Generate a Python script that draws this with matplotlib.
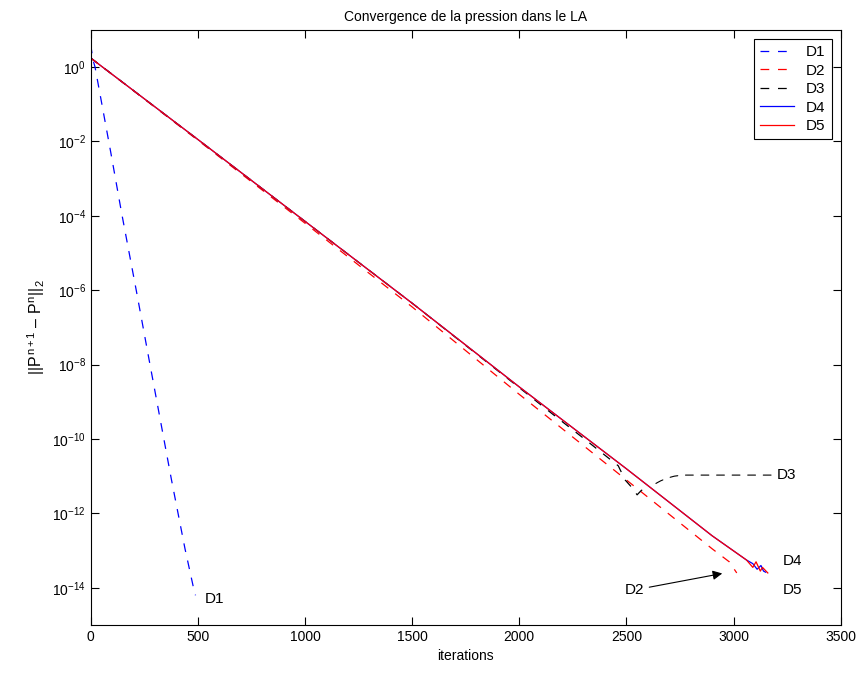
import numpy as np
import matplotlib.pyplot as plt

plt.rcParams['font.family'] = ['Liberation Sans', 'DejaVu Sans']
plt.rcParams['mathtext.fontset'] = 'custom'
plt.rcParams['mathtext.rm'] = 'Liberation Sans'
plt.rcParams['mathtext.it'] = 'Liberation Sans'
plt.rcParams['font.size'] = 10

# values: iterations and log10 of the residual
d1_it = [0, 10, 20, 93, 144, 214, 275, 377, 440, 479, 489]
d1_log = [0.6, 0.2, 0.0, -2.28, -3.92, -6.05, -7.95, -11.1, -12.95, -13.98, -14.2]

d2_it = [0, 500, 1000, 1500, 2000, 2500, 2900, 2980, 3015]
d2_log = [0.24, -1.97, -4.2, -6.45, -8.8, -11.1, -12.95, -13.3, -13.6]

d3_it = [0, 500, 1000, 1500, 2000, 2173, 2300, 2462, 2494, 2525, 2550, 2570, 2600]
d3_log = [0.24, -1.95, -4.15, -6.35, -8.62, -9.41, -9.98, -10.72, -11.1, -11.3, -11.5, -11.38, -11.32]

d4_it = [0, 20, 500, 1000, 1500, 2000, 2500, 2900, 3060, 3090, 3110, 3128, 3140, 3150]
d4_log = [0.24, 0.15, -1.95, -4.15, -6.35, -8.6, -10.8, -12.6, -13.25, -13.35, -13.5, -13.4, -13.55, -13.58]

d5_it = [0, 20, 500, 1000, 1500, 2000, 2500, 2900, 3060, 3090, 3105, 3125, 3135, 3160]
d5_log = [0.24, 0.15, -1.95, -4.15, -6.35, -8.6, -10.8, -12.6, -13.25, -13.45, -13.3, -13.55, -13.45, -13.6]

series = [("D1", d1_it, d1_log, "b", "--"),
          ("D2", d2_it, d2_log, "r", "--"),
          ("D3", d3_it, d3_log, "k", "--"),
          ("D4", d4_it, d4_log, "b", "-"),
          ("D5", d5_it, d5_log, "r", "-")]

fig = plt.figure(figsize=(8.64, 6.75), dpi=100)
ax = fig.add_axes([0.105, 0.074, 0.868, 0.882])

for name, it, lg, c, ls in series:
    ax.semilogy(it, 10.0 ** np.array(lg), color=c, linestyle=ls, lw=0.9,
                dashes=(7, 7) if ls == "--" else (None, None), label=name)

ax.set_xlim(0, 3500)
ax.set_ylim(1e-15, 1e1)
ax.set_yticks([10.0 ** k for k in range(0, -15, -2)])
ax.minorticks_off()
ax.tick_params(direction="in", length=5.5, top=True, right=True, labelsize=10)

ax.set_title("Convergence de la pression dans le LA", fontsize=10)
ax.set_xlabel("iterations", fontsize=10)
ax.set_ylabel(r"$||P^{n+1}$ – $P^{n}||_2$", fontsize=11.5)

# labels on the curves
ax.text(530, 10 ** -14.3, "D1", ha="left", va="center", fontsize=11)
ax.annotate("D2", xy=(2960, 10 ** -13.6), xytext=(2490, 10 ** -14.06),
            ha="left", va="center", fontsize=11,
            arrowprops=dict(arrowstyle="-|>", color="k", lw=0.8,
                            mutation_scale=14))
ax.annotate("D3", xy=(2600, 10 ** -11.32), xytext=(3201, 10 ** -10.97),
            ha="left", va="center", fontsize=11,
            arrowprops=dict(arrowstyle="-", color="k", lw=0.8, linestyle=(0, (7, 7)),
                            connectionstyle="angle,angleA=0,angleB=30,rad=15"))
ax.text(3229, 10 ** -13.28, "D4", ha="left", va="center", fontsize=11)
ax.text(3229, 10 ** -14.06, "D5", ha="left", va="center", fontsize=11)

leg = ax.legend(loc="upper right", fancybox=False, edgecolor="k",
                framealpha=1, fontsize=11, handlelength=2.2,
                borderaxespad=0.6, labelspacing=0.3)
leg.get_frame().set_linewidth(0.8)

fig.savefig("out.png", dpi=100)
